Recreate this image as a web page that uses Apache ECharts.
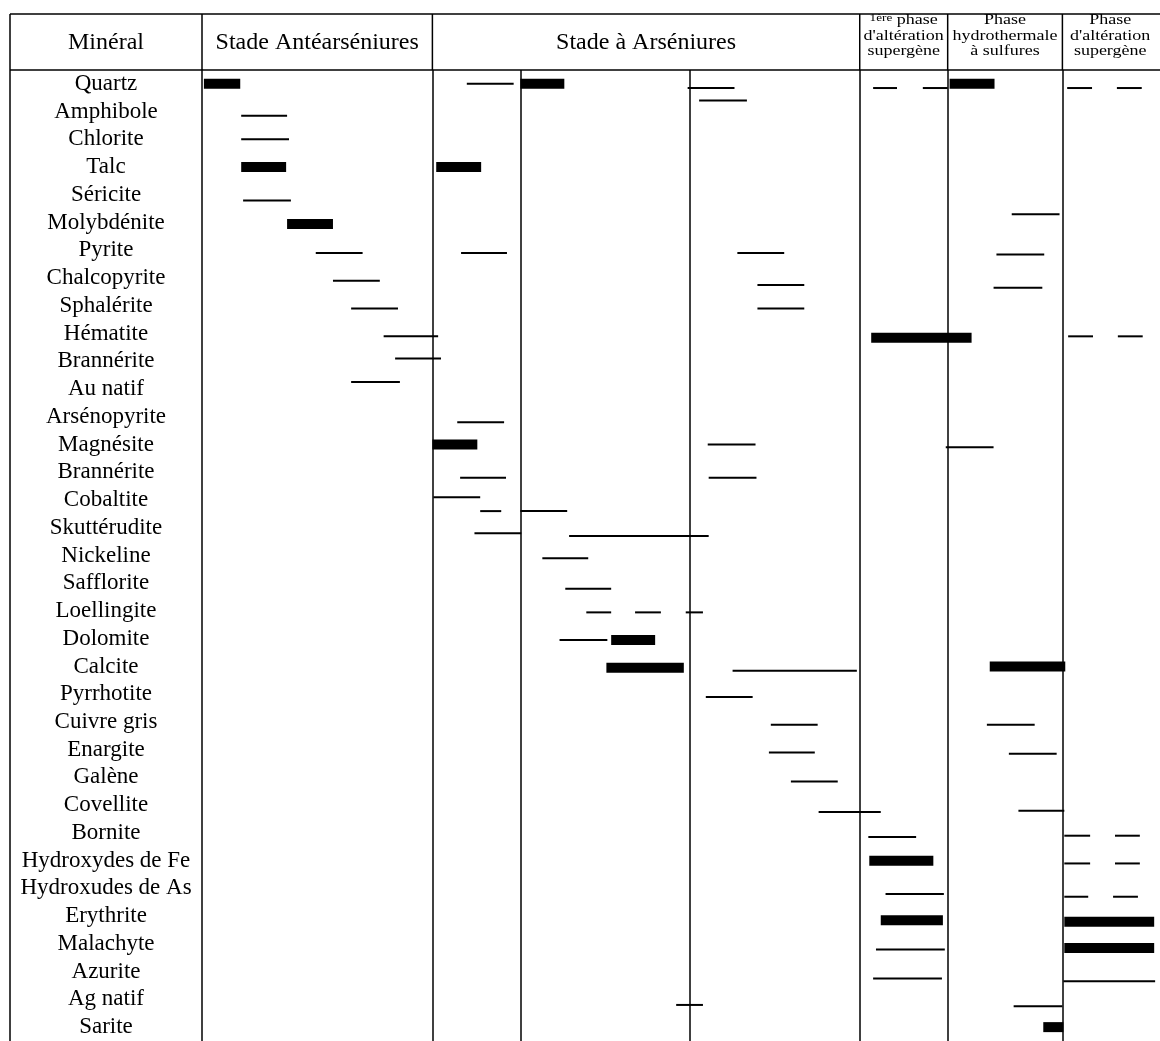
<!DOCTYPE html>
<html>
<head>
<meta charset="utf-8">
<title>Séquence paragénétique</title>
<script src="https://cdn.jsdelivr.net/npm/echarts@6.0.0/dist/echarts.min.js"></script>
<style>
html, body { margin: 0; padding: 0; background: #fff; }
#paragenese { width: 1160px; height: 1041px; }
</style>
</head>
<body>
<div id="paragenese"></div>
<script>
var mineraux = ['Quartz', 'Amphibole', 'Chlorite', 'Talc', 'Séricite', 'Molybdénite', 'Pyrite',
    'Chalcopyrite', 'Sphalérite', 'Hématite', 'Brannérite', 'Au natif', 'Arsénopyrite', 'Magnésite',
    'Brannérite', 'Cobaltite', 'Skuttérudite', 'Nickeline', 'Safflorite', 'Loellingite', 'Dolomite',
    'Calcite', 'Pyrrhotite', 'Cuivre gris', 'Enargite', 'Galène', 'Covellite', 'Bornite',
    'Hydroxydes de Fe', 'Hydroxudes de As', 'Erythrite', 'Malachyte', 'Azurite', 'Ag natif', 'Sarite'];

// [ligne, début, fin, décalage dans la ligne]
var traitsFins = [
    [0, 27.7, 32.6, 0], [0, 50.8, 55.7, 0.15], [0, 52.0, 57.0, 0.6],
    [0, 70.2, 72.7, 0.15], [0, 75.4, 78.0, 0.15], [0, 90.5, 93.1, 0.15], [0, 95.7, 98.3, 0.15],
    [1, 4.1, 8.9, 0.15],
    [2, 4.1, 9.1, 0],
    [4, 4.3, 9.3, 0.2],
    [5, 84.7, 89.7, -0.3],
    [6, 11.9, 16.8, 0.1], [6, 27.1, 31.9, 0.1], [6, 56.0, 60.9, 0.1], [6, 83.1, 88.1, 0.15],
    [7, 13.7, 18.6, 0.1], [7, 58.1, 63.0, 0.25], [7, 82.8, 87.9, 0.35],
    [8, 15.6, 20.5, 0.1], [8, 58.1, 63.0, 0.1],
    [9, 19.0, 24.7, 0.1], [9, 90.6, 93.2, 0.1], [9, 95.8, 98.4, 0.1],
    [10, 20.2, 25.0, -0.1],
    [11, 15.6, 20.7, -0.25],
    [12, 26.7, 31.6, 0.2],
    [13, 52.9, 57.9, 0], [13, 77.8, 82.8, 0.1],
    [14, 27.0, 31.8, 0.2], [14, 53.0, 58.0, 0.2],
    [15, 24.2, 29.1, -0.1], [15, 29.1, 31.3, 0.4], [15, 33.3, 38.2, 0.4],
    [16, 28.5, 33.4, 0.2], [16, 38.4, 53.0, 0.3],
    [17, 35.6, 40.4, 0.1],
    [18, 38.0, 42.8, 0.2],
    [19, 40.2, 42.8, 0.05], [19, 45.3, 48.0, 0.05], [19, 50.6, 52.4, 0.05],
    [20, 37.4, 42.4, 0.05],
    [21, 55.5, 68.5, 0.15],
    [22, 52.7, 57.6, 0.1],
    [23, 59.5, 64.4, 0.1], [23, 82.1, 87.1, 0.1],
    [24, 59.3, 64.1, 0.1], [24, 84.4, 89.4, 0.15],
    [25, 61.6, 66.5, 0.15],
    [26, 64.5, 71.0, 0.25], [26, 85.4, 90.2, 0.2],
    [27, 69.7, 74.7, 0.15], [27, 90.2, 92.9, 0.1], [27, 95.5, 98.1, 0.1],
    [28, 90.2, 92.9, 0.1], [28, 95.5, 98.1, 0.1],
    [29, 71.5, 77.6, 0.2], [29, 90.2, 92.7, 0.3], [29, 95.3, 97.9, 0.3],
    [31, 70.5, 77.7, 0.2],
    [32, 70.2, 77.4, 0.25], [32, 90.1, 99.7, 0.35],
    [33, 49.6, 52.4, 0.2], [33, 84.9, 90.0, 0.25]
];

var barresEpaisses = [
    [0, 0.2, 4.0, 0], [0, 33.3, 37.9, 0], [0, 78.2, 82.9, 0],
    [3, 4.1, 8.8, 0], [3, 24.5, 29.2, 0],
    [5, 8.9, 13.7, 0.05],
    [9, 70.0, 80.5, 0.15],
    [13, 24.1, 28.8, 0],
    [20, 42.8, 47.4, 0.05],
    [21, 42.3, 50.4, 0.05], [21, 82.4, 90.3, 0],
    [28, 69.8, 76.5, 0],
    [30, 71.0, 77.5, 0.15], [30, 90.2, 99.6, 0.2],
    [31, 90.2, 99.6, 0.15],
    [34, 88.0, 90.1, 0]
];

var limitesStades = [0, 24.1, 68.8, 78.0, 90.0, 100];
var limitesInternes = [33.3, 51.0];
var titreMineral = 'Minéral';
var nomsStades = ['Stade Antéarséniures', 'Stade à Arséniures',
    '{sup|1ère} phase\nd\'altération\nsupergène',
    'Phase\nhydrothermale\nà sulfures',
    'Phase\nd\'altération\nsupergène'];

var serif = "'Liberation Serif', 'DejaVu Serif', serif";
var myChart = echarts.init(document.getElementById('paragenese'));

function segment(epaisseur) {
    return function (params, api) {
        var ligne = api.value(0);
        var debut = api.coord([api.value(1), ligne]);
        var fin = api.coord([api.value(2), ligne]);
        var bande = api.size([0, 1])[1];
        var y = debut[1] + api.value(3) * bande;
        return {
            type: 'rect',
            shape: { x: debut[0], y: y - epaisseur / 2, width: fin[0] - debut[0], height: epaisseur },
            style: { fill: '#000' }
        };
    };
}

var option = {
    animation: false,
    backgroundColor: '#fff',
    grid: { left: 202, right: 2, top: 70, bottom: 0, outerBoundsMode: 'none' },
    xAxis: { type: 'value', min: 0, max: 100, show: false },
    yAxis: {
        type: 'category',
        inverse: true,
        data: mineraux,
        axisTick: { show: false },
        axisLine: { show: true, lineStyle: { color: '#000', width: 1.5 } },
        axisLabel: { interval: 0, align: 'center', margin: 96, color: '#000', fontFamily: serif, fontSize: 23 },
        splitLine: { show: false }
    },
    series: [{
        type: 'custom',
        name: 'traits fins',
        silent: true,
        renderItem: segment(2),
        encode: { x: [1, 2], y: 0 },
        data: traitsFins,
        markLine: {
            silent: true,
            symbol: ['none', 'none'],
            label: { show: false },
            lineStyle: { color: '#000', width: 1.5, type: 'solid' },
            data: limitesStades.slice(1, -1).concat(limitesInternes).map(function (v) {
                return { xAxis: v };
            })
        }
    }, {
        type: 'custom',
        name: 'barres',
        silent: true,
        renderItem: segment(10),
        encode: { x: [1, 2], y: 0 },
        data: barresEpaisses
    }]
};
myChart.setOption(option);

// en-tête du tableau, placé d'après l'axe des x
var px = function (v) { return myChart.convertToPixel({ xAxisIndex: 0 }, v); };
var haut = 14, basEntete = 70, bas = 1041, gauche = 10, droite = 1160;
var styleTrait = { stroke: '#000', lineWidth: 1.5 };
var elements = [
    { type: 'line', shape: { x1: gauche, y1: haut, x2: droite, y2: haut }, style: styleTrait },
    { type: 'line', shape: { x1: gauche, y1: basEntete, x2: droite, y2: basEntete }, style: styleTrait },
    { type: 'line', shape: { x1: gauche, y1: haut, x2: gauche, y2: bas }, style: styleTrait },
    { type: 'line', shape: { x1: px(0), y1: haut, x2: px(0), y2: basEntete }, style: styleTrait },
    {
        type: 'text', x: (gauche + px(0)) / 2, y: 43,
        style: { text: titreMineral, fill: '#000', fontFamily: serif, fontSize: 24, align: 'center', verticalAlign: 'middle' }
    }
];
limitesStades.slice(1, -1).forEach(function (v) {
    elements.push({ type: 'line', shape: { x1: px(v), y1: haut, x2: px(v), y2: basEntete }, style: styleTrait });
});
nomsStades.forEach(function (nom, i) {
    var cx = (px(limitesStades[i]) + px(limitesStades[i + 1])) / 2;
    var petit = nom.indexOf('\n') >= 0;
    elements.push({
        type: 'text',
        x: cx,
        y: petit ? 36 : 43,
        scaleX: petit ? 1.2 : 1,
        style: {
            text: nom, fill: '#000', fontFamily: serif,
            fontSize: petit ? 15 : 24, lineHeight: petit ? 15.5 : 24,
            align: 'center', verticalAlign: 'middle',
            rich: { sup: { fontSize: 11, verticalAlign: 'top', fontFamily: serif } }
        }
    });
});
myChart.setOption({ graphic: { elements: elements } });
</script>
</body>
</html>
